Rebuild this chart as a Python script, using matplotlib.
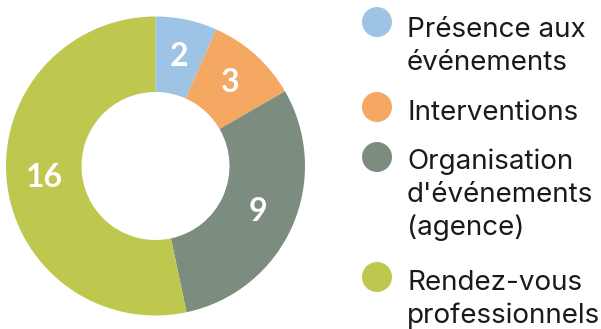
import matplotlib.pyplot as plt
from matplotlib.patches import Circle

# donut data
categories = ["Présence aux\névénements", "Interventions",
              "Organisation\nd'événements\n(agence)", "Rendez-vous\nprofessionnels"]
values = [2, 3, 9, 16]
colors = ["#9DC4E4", "#F4A861", "#7C8D80", "#BFC84E"]

W, H = 601, 329
fig = plt.figure(figsize=(W / 100, H / 100), dpi=100)
ax = fig.add_axes([0, 0, 1, 1])

cx, cy, r = 155.5, H - 166, 149.5
wedges, texts, autotexts = ax.pie(
    values, colors=colors, startangle=90, counterclock=False,
    center=(cx, cy), radius=r,
    wedgeprops=dict(width=r - 74, linewidth=0),
    autopct=lambda p: "%d" % round(p * sum(values) / 100),
    pctdistance=0.75,
    textprops=dict(color="white", fontsize=23, fontweight="bold", family="Lato"),
)

ax.set_xlim(0, W)
ax.set_ylim(0, H)
ax.set_aspect("equal")
ax.axis("off")

# legend drawn by hand, one line at a time
marker_y = [22, 107, 157, 277]
first_baseline = [37, 120, 169, 290]
line_step = 33
for my, by, name, col in zip(marker_y, first_baseline, categories, colors):
    ax.add_patch(Circle((377, H - my), 15, color=col, linewidth=0))
    for i, line in enumerate(name.split("\n")):
        ax.text(407, H - (by + i * line_step), line, ha="left", va="baseline",
                fontsize=20, family="Inter", color="#1a1a1a")

fig.savefig("out.png", dpi=100)
